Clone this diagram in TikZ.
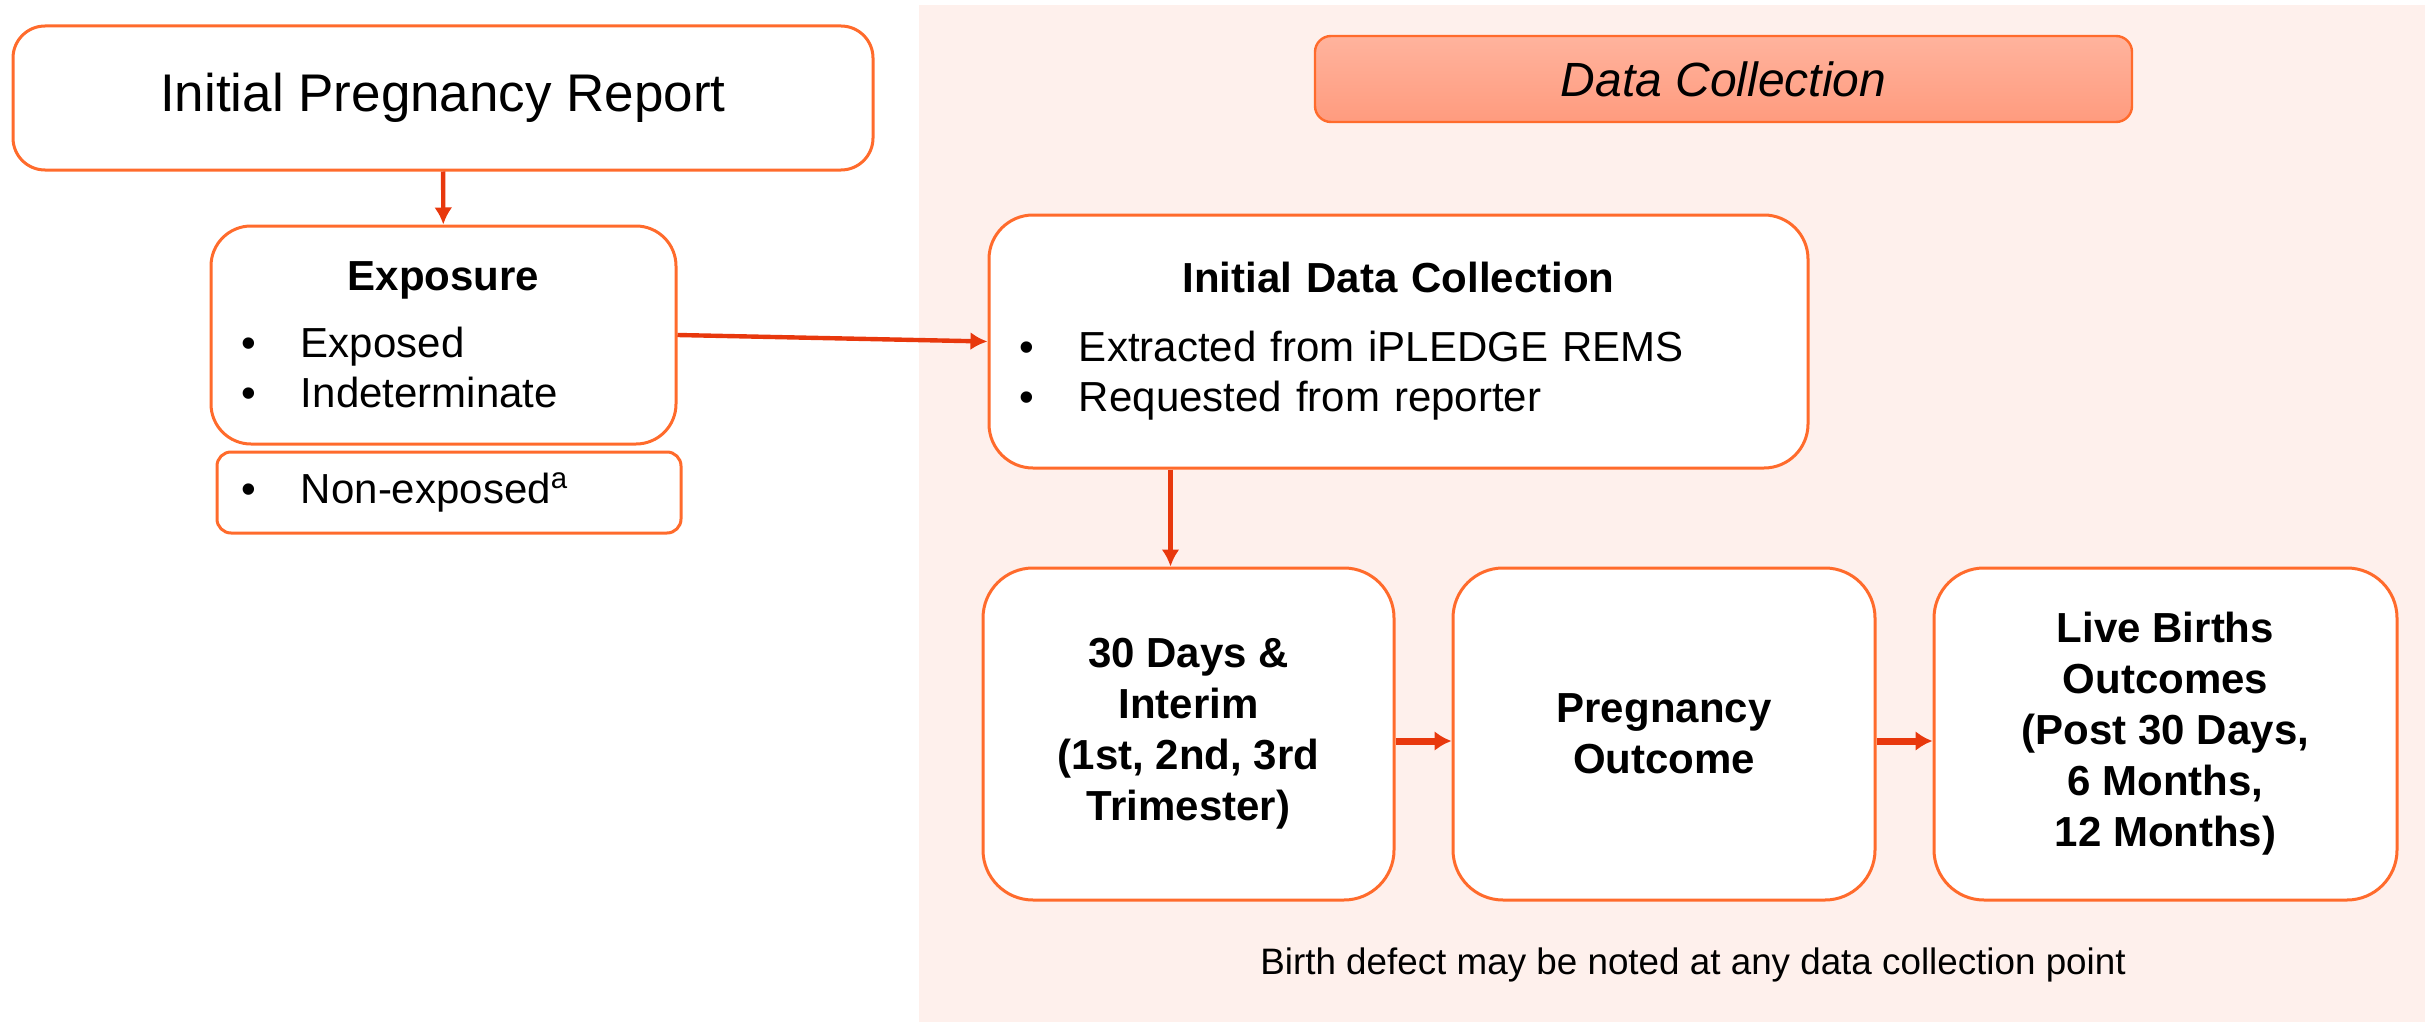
\documentclass[tikz,border=0pt]{standalone}
\usepackage{fontspec}
\setmainfont{Liberation Sans}
\usepackage{tikz}
\usetikzlibrary{chains,positioning,arrows.meta}

\definecolor{boxline}{HTML}{FF6B2C}
\definecolor{arrowred}{HTML}{E8380D}
\definecolor{panel}{HTML}{FEF0EC}
\definecolor{hdrtop}{HTML}{FFB39D}
\definecolor{hdrbot}{HTML}{FF9B7E}

\newcommand{\bul}{\makebox[30pt][l]{\textbullet}}

\begin{document}
\begin{tikzpicture}[
x=0.5pt,y=-0.5pt,
mybox/.style={
  draw=boxline,
  line width=1.5pt,
  fill=white,
  font=\fontsize{21}{25}\selectfont
  },
stagebox/.style={
  mybox,
  rounded corners=25pt,
  minimum height=166pt,
  align=center,
  font=\fontsize{21}{25.5}\selectfont\bfseries
  },
myarrow/.style={color=arrowred,line width=2.2pt,-{Latex[length=8.5pt,width=9pt]}},
fatarrow/.style={myarrow,line width=3.5pt,-{Latex[length=8.5pt,width=10pt]}},
start chain=going right,
node distance=28pt
]
\useasboundingbox (0,0) rectangle (2425,1022);
\fill[panel] (919,5) rectangle (2425,1022);

\node[mybox,rounded corners=16pt,minimum width=430pt,minimum height=72pt,
  font=\fontsize{26.5}{30}\selectfont] (ipr) at (443,98) {Initial Pregnancy Report};
\node[mybox,rounded corners=20pt,text width=202.5pt,inner xsep=15pt,minimum height=109pt]
  (expo) at (443.5,335)
  {\raggedright{\centering\textbf{Exposure}\par}\vspace{8.5pt}\bul Exposed\par\bul Indeterminate};
\node[mybox,rounded corners=7pt,text width=208pt,inner xsep=12pt,minimum height=40.5pt]
  (nonexp) at (449,492.5) {\bul Non-exposed\textsuperscript{a}};

\node[draw=boxline,line width=1.2pt,rounded corners=8pt,top color=hdrtop,bottom color=hdrbot,
  minimum width=408.5pt,minimum height=43pt,font=\fontsize{24}{28}\selectfont\itshape]
  (hdr) at (1723.5,79) {Data Collection};
\node[mybox,rounded corners=22pt,text width=379.5pt,inner xsep=15pt,minimum height=126.5pt]
  (idc) at (1398.5,341.5)
  {\raggedright{\centering\textbf{Initial Data Collection}\par}\vspace{9.5pt}\bul Extracted from iPLEDGE REMS\par\bul Requested from reporter};

\node[stagebox,minimum width=205.5pt,on chain] (day30) at (1188.5,734)
  {30 Days \&\\Interim\\(1st, 2nd, 3rd\\Trimester)};
\node[stagebox,minimum width=211pt,on chain] (preg) {Pregnancy\\Outcome};
\node[stagebox,minimum width=231.5pt,on chain] (live)
  {Live Births\\Outcomes\\(Post 30 Days,\\6 Months,\\12 Months)};

\node[font=\fontsize{18.4}{22}\selectfont] (note) at (1693,965)
  {Birth defect may be noted at any data collection point};

\path[myarrow]
  (ipr) edge (expo)
  (expo.east) edge (idc.west)
  ([xshift=-9pt]day30.north |- idc.south) edge ([xshift=-9pt]day30.north);
\path[fatarrow]
  ([yshift=-3.5pt]day30.east) edge ([yshift=-3.5pt]preg.west)
  ([yshift=-3.5pt]preg.east) edge ([yshift=-3.5pt]live.west);
\end{tikzpicture}
\end{document}
